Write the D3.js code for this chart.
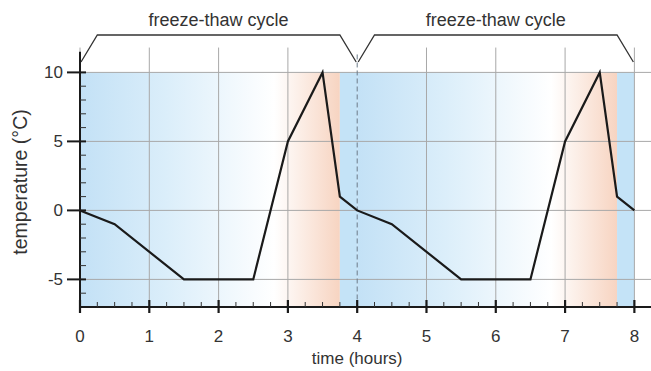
<!DOCTYPE html>
<html>
<head>
  <meta charset="utf-8">
  <script src="https://cdn.jsdelivr.net/npm/d3@7"></script>
  <style>
    body { margin: 0; background: #fff; }
    text { font-family: "Liberation Sans", Arial, sans-serif; fill: #333; }
  </style>
</head>
<body>
  <svg id="chart" width="651" height="371"></svg>
  <script>
    // time (h) and temperature (°C) of the two freeze-thaw cycles
    var hours = [0, 0.5, 1.5, 2.5, 3, 3.5, 3.75, 4, 4.5, 5.5, 6.5, 7, 7.5, 7.75, 8];
    var temps = [0, -1, -5, -5, 5, 10, 1, 0, -1, -5, -5, 5, 10, 1, 0];

    var xTicks = [0, 1, 2, 3, 4, 5, 6, 7, 8];
    var yTicks = [-5, 0, 5, 10];

    // cycle spans and their shaded phases [start, end]
    var cycles = [[0, 4], [4, 8]];
    var cycleLabels = ['freeze-thaw cycle', 'freeze-thaw cycle'];
    var coolBands = [[0, 2.8], [4, 6.8]];
    var warmBands = [[2.8, 3.75], [6.8, 7.75]];
    var holdBands = [[3.75, 4], [7.75, 8]];

    var svg = d3.select('#chart');

    var x = d3.scaleLinear().domain([0, 8.25]).range([80, 651.7]);
    var y = d3.scaleLinear().domain([-7, 10]).range([307, 72.4]);

    //gradients
    var defs = svg.append('defs');
    var gBlue = defs.append('linearGradient').attr('id', 'gBlue');
    gBlue.append('stop').attr('offset', '0%').attr('stop-color', '#c3e1f6');
    gBlue.append('stop').attr('offset', '45%').attr('stop-color', '#dbeefa');
    gBlue.append('stop').attr('offset', '100%').attr('stop-color', '#ffffff');
    var gRed = defs.append('linearGradient').attr('id', 'gRed');
    gRed.append('stop').attr('offset', '0%').attr('stop-color', '#ffffff');
    gRed.append('stop').attr('offset', '100%').attr('stop-color', '#f7d4c1');

    function band(list, fill) {
      svg.selectAll(null)
        .data(list)
        .enter()
        .append('rect')
        .attr('x', d => x(d[0]))
        .attr('width', d => x(d[1]) - x(d[0]))
        .attr('y', y(10))
        .attr('height', y(-7) - y(10))
        .attr('fill', fill);
    }
    band(coolBands, 'url(#gBlue)');
    band(warmBands, 'url(#gRed)');
    band(holdBands, '#c4e3f7');

    //grid
    svg.selectAll(null)
      .data(xTicks.filter(d => d != 4))
      .enter()
      .append('line')
      .attr('x1', d => x(d)).attr('x2', d => x(d))
      .attr('y1', y(11.8)).attr('y2', y(-7))
      .attr('stroke', '#a8a8a8').attr('stroke-width', 1);

    svg.selectAll(null)
      .data(yTicks)
      .enter()
      .append('line')
      .attr('x1', x(0)).attr('x2', 651)
      .attr('y1', d => y(d)).attr('y2', d => y(d))
      .attr('stroke', '#a8a8a8').attr('stroke-width', 1);

    //dashed divider between cycles
    svg.append('line')
      .attr('x1', x(4)).attr('x2', x(4))
      .attr('y1', y(11.3)).attr('y2', y(-7))
      .attr('stroke', '#6a7a88').attr('stroke-width', 1)
      .attr('stroke-dasharray', '5,3');

    //temperature line
    var line = d3.line()
      .x((d, i) => x(hours[i]))
      .y(d => y(d));
    svg.append('path')
      .datum(temps)
      .attr('fill', 'none')
      .attr('stroke', '#1a1a1a')
      .attr('stroke-width', 2.2)
      .attr('stroke-linejoin', 'miter')
      .attr('d', line);

    //axes
    var xAxis = svg.append('g').attr('transform', 'translate(0,' + y(-7) + ')');
    xAxis.append('line').attr('x1', x(0)).attr('x2', 651)
      .attr('stroke', '#1a1a1a').attr('stroke-width', 2);
    xAxis.selectAll(null)
      .data(d3.range(1, 33).map(d => d / 4).filter(d => d % 1 != 0))
      .enter().append('line')
      .attr('x1', d => x(d)).attr('x2', d => x(d))
      .attr('y1', 0).attr('y2', -5)
      .attr('stroke', '#333').attr('stroke-width', 1);
    xAxis.selectAll(null)
      .data(xTicks)
      .enter().append('line')
      .attr('x1', d => x(d)).attr('x2', d => x(d))
      .attr('y1', -7).attr('y2', 6)
      .attr('stroke', '#1a1a1a').attr('stroke-width', 2.2);
    xAxis.selectAll(null)
      .data(xTicks)
      .enter().append('text')
      .attr('x', d => x(d)).attr('y', 35)
      .attr('text-anchor', 'middle')
      .attr('font-size', 17)
      .text(d => d);

    var yAxis = svg.append('g').attr('transform', 'translate(' + x(0) + ',0)');
    yAxis.append('line').attr('y1', y(11.5)).attr('y2', y(-7))
      .attr('stroke', '#1a1a1a').attr('stroke-width', 2);
    yAxis.selectAll(null)
      .data(d3.range(-6, 10).filter(d => d % 5 != 0))
      .enter().append('line')
      .attr('y1', d => y(d)).attr('y2', d => y(d))
      .attr('x1', 0).attr('x2', 6)
      .attr('stroke', '#333').attr('stroke-width', 1);
    yAxis.selectAll(null)
      .data(yTicks)
      .enter().append('line')
      .attr('y1', d => y(d)).attr('y2', d => y(d))
      .attr('x1', -13).attr('x2', 6)
      .attr('stroke', '#1a1a1a').attr('stroke-width', 2);
    yAxis.selectAll(null)
      .data(yTicks)
      .enter().append('text')
      .attr('x', -17).attr('y', d => y(d) + 6)
      .attr('text-anchor', 'end')
      .attr('font-size', 17)
      .text(d => d);

    //axis titles
    svg.append('text')
      .attr('x', x(4)).attr('y', 364)
      .attr('text-anchor', 'middle')
      .attr('font-size', 17)
      .text('time (hours)');
    svg.append('text')
      .attr('transform', 'translate(27,182) rotate(-90)')
      .attr('text-anchor', 'middle')
      .attr('font-size', 19.5)
      .text('temperature (°C)');

    //cycle brackets
    svg.selectAll(null)
      .data(cycles)
      .enter().append('path')
      .attr('fill', 'none')
      .attr('stroke', '#333')
      .attr('stroke-width', 1.3)
      .attr('d', d => 'M' + (x(d[0]) + 1) + ',62 L' + x(d[0] + 0.25) + ',35 L' + x(d[1] - 0.25) + ',35 L' + (x(d[1]) - 1) + ',62');
    svg.selectAll(null)
      .data(cycles)
      .enter().append('text')
      .attr('x', d => x((d[0] + d[1]) / 2))
      .attr('y', 26)
      .attr('text-anchor', 'middle')
      .attr('font-size', 18)
      .text((d, i) => cycleLabels[i]);
  </script>
</body>
</html>
